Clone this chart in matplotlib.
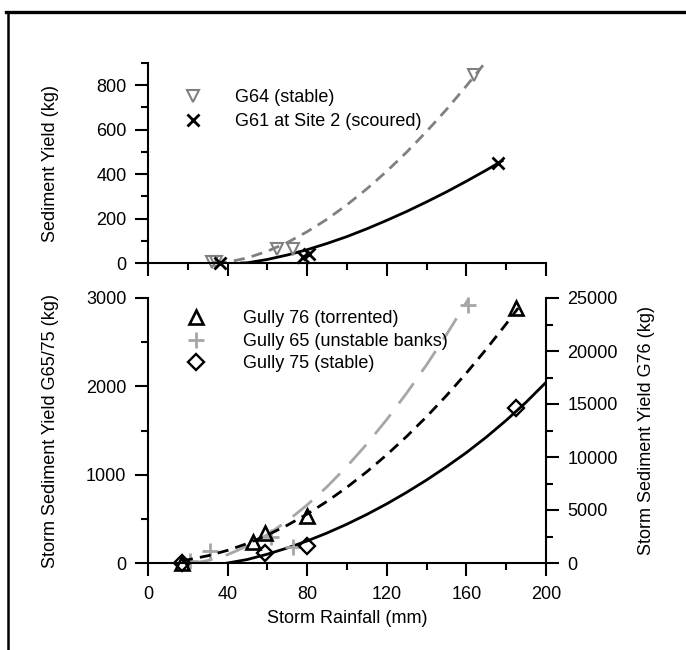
import matplotlib
matplotlib.use("Agg")
import matplotlib.pyplot as plt
from matplotlib.lines import Line2D
from matplotlib.ticker import MultipleLocator

plt.rcParams['font.family'] = ['Liberation Sans', 'DejaVu Sans']

# ---------------- data ----------------
# Top panel: Sediment Yield (kg)
g64_x = [32, 34, 65, 73, 164]
g64_y = [3, 5, 63, 63, 845]
g61_x = [36, 78, 81, 176]
g61_y = [0, 28, 40, 448]

g64_fit_x = [34, 40, 50, 60, 70, 80, 90, 100, 110, 120, 130, 140, 150, 160, 169]
g64_fit_y = [0, 4, 23, 53, 92, 141, 197, 262, 334, 413, 499, 592, 691, 797, 897]
g61_fit_x = [47, 50, 60, 70, 80, 90, 100, 110, 120, 130, 140, 150, 160, 170, 178]
g61_fit_y = [0, 1, 16, 36, 60, 88, 119, 154, 192, 232, 275, 320, 368, 418, 460]

# Bottom panel
g76_x = [17, 53, 59, 80, 185]           # right axis (kg)
g76_y = [0, 2000, 2800, 4400, 24100]
g65_x = [21, 31, 62, 73, 161]           # left axis (kg)
g65_y = [20, 135, 290, 180, 2925]
g75_x = [17, 59, 80, 185]               # left axis (kg)
g75_y = [0, 115, 190, 1755]

g76_fit_x = [17, 20, 30, 40, 50, 60, 70, 80, 90, 100, 110, 120, 130, 140, 150, 160, 170, 180, 186]
g76_fit_y = [224, 308, 680, 1192, 1844, 2634, 3561, 4621, 5818, 7149, 8614, 10213, 11944,
             13804, 15796, 17920, 20176, 22559, 24050]
g65_fit_x = [20, 25, 30, 40, 50, 60, 70, 80, 90, 100, 110, 120, 130, 140, 150, 161]
g65_fit_y = [0, 8, 27, 94, 193, 321, 476, 658, 864, 1094, 1348, 1625, 1924, 2244, 2586, 2987]
g75_fit_x = [40, 50, 60, 70, 80, 90, 100, 110, 120, 130, 140, 150, 160, 170, 180, 190, 200]
g75_fit_y = [0, 40, 100, 170, 250, 340, 440, 550, 670, 800, 940, 1090, 1250, 1425, 1615, 1820, 2045]

x_ticks = [0, 40, 80, 120, 160, 200]
top_yticks = [0, 200, 400, 600, 800]
bot_yticks = [0, 1000, 2000, 3000]
right_yticks = [0, 5000, 10000, 15000, 20000, 25000]

# ---------------- figure ----------------
W, H = 686, 650
fig = plt.figure(figsize=(W / 100, H / 100), dpi=100)
fig.patch.set_facecolor('white')

FS = 13
GRAY = '#808080'
LGRAY = '#a6a6a6'

def style_axis(ax):
    ax.tick_params(which='major', direction='out', length=9.5, width=1.5, labelsize=FS, pad=6)
    ax.tick_params(which='minor', direction='out', length=5, width=1.5)
    for s in ax.spines.values():
        s.set_linewidth(1.5)

# frame lines
fig.add_artist(Line2D([6 / W, 1.0], [1 - 12 / H, 1 - 12 / H], color='black', lw=2.4))
fig.add_artist(Line2D([8 / W, 8 / W], [0.0, 1 - 12 / H], color='black', lw=1.8))

# ---------------- top panel ----------------
ax1 = fig.add_axes([148 / W, (H - 263) / H, 398 / W, 200 / H])
ax1.set_xlim(0, 200)
ax1.set_ylim(0, 900)
ax1.spines['top'].set_visible(False)
ax1.spines['right'].set_visible(False)
style_axis(ax1)
ax1.set_xticks(x_ticks)
ax1.xaxis.set_minor_locator(MultipleLocator(20))
ax1.set_xticklabels([])
ax1.set_yticks(top_yticks)
ax1.yaxis.set_minor_locator(MultipleLocator(100))

ax1.plot(g64_fit_x, g64_fit_y, color=GRAY, lw=2, ls=(0, (4, 2.6)))
ax1.plot(g61_fit_x, g61_fit_y, color='black', lw=2)
h64, = ax1.plot(g64_x, g64_y, ls='none', marker='v', ms=9, mfc='none', mec=GRAY, mew=1.5,
                clip_on=False, label='G64 (stable)')
h61, = ax1.plot(g61_x, g61_y, ls='none', marker='x', ms=9, mec='black', mew=2,
                clip_on=False, label='G61 at Site 2 (scoured)')
ax1.set_ylabel('Sediment Yield (kg)', fontsize=FS)
ax1.yaxis.set_label_coords(-0.224, 0.5)
ax1.legend(handles=[h64, h61], loc='upper left', bbox_to_anchor=(0.090, 0.87),
           frameon=False, fontsize=FS, handlelength=1, handletextpad=1.83,
           labelspacing=0.41, borderpad=0, borderaxespad=0)

# ---------------- bottom panel ----------------
ax2 = fig.add_axes([148 / W, (H - 563) / H, 398 / W, 265 / H])
ax2.set_xlim(0, 200)
ax2.set_ylim(0, 3000)
ax2.spines['top'].set_visible(False)
ax2.spines['right'].set_visible(False)
style_axis(ax2)
ax2.set_xticks(x_ticks)
ax2.xaxis.set_minor_locator(MultipleLocator(20))
ax2.set_yticks(bot_yticks)
ax2.yaxis.set_minor_locator(MultipleLocator(500))
ax2.tick_params(axis='x', pad=7)

ax3 = ax2.twinx()
ax3.set_ylim(0, 25000)
for side in ['top', 'left', 'bottom']:
    ax3.spines[side].set_visible(False)
style_axis(ax3)
ax3.set_yticks(right_yticks)
ax3.yaxis.set_minor_locator(MultipleLocator(2500))

ax2.plot(g65_fit_x, g65_fit_y, color=LGRAY, lw=2, ls=(0, (9, 5)))
ax2.plot(g75_fit_x, g75_fit_y, color='black', lw=2)
ax3.plot(g76_fit_x, g76_fit_y, color='black', lw=2, ls=(0, (4, 2.6)))

h65, = ax2.plot(g65_x, g65_y, ls='none', marker='+', ms=11, mec=LGRAY, mew=2,
                clip_on=False, label='Gully 65 (unstable banks)')
h75, = ax2.plot(g75_x, g75_y, ls='none', marker='D', ms=8.5, mfc='none', mec='black', mew=1.7,
                clip_on=False, label='Gully 75 (stable)')
h76, = ax3.plot(g76_x, g76_y, ls='none', marker='^', ms=10.5, mfc='none', mec='black', mew=1.9,
                clip_on=False, label='Gully 76 (torrented)')

ax2.set_xlabel('Storm Rainfall (mm)', fontsize=FS, labelpad=5)
ax2.set_ylabel('Storm Sediment Yield G65/75 (kg)', fontsize=FS)
ax2.yaxis.set_label_coords(-0.224, 0.5)
ax3.set_ylabel('Storm Sediment Yield G76 (kg)', fontsize=FS)
ax3.yaxis.set_label_coords(1.231, 0.5)

ax3.legend(handles=[h76, h65, h75], loc='upper left', bbox_to_anchor=(0.0975, 0.953),
           frameon=False, fontsize=FS, handlelength=1, handletextpad=2.09,
           labelspacing=0.3, borderpad=0, borderaxespad=0)

fig.savefig('out.png', dpi=100, facecolor='white')
